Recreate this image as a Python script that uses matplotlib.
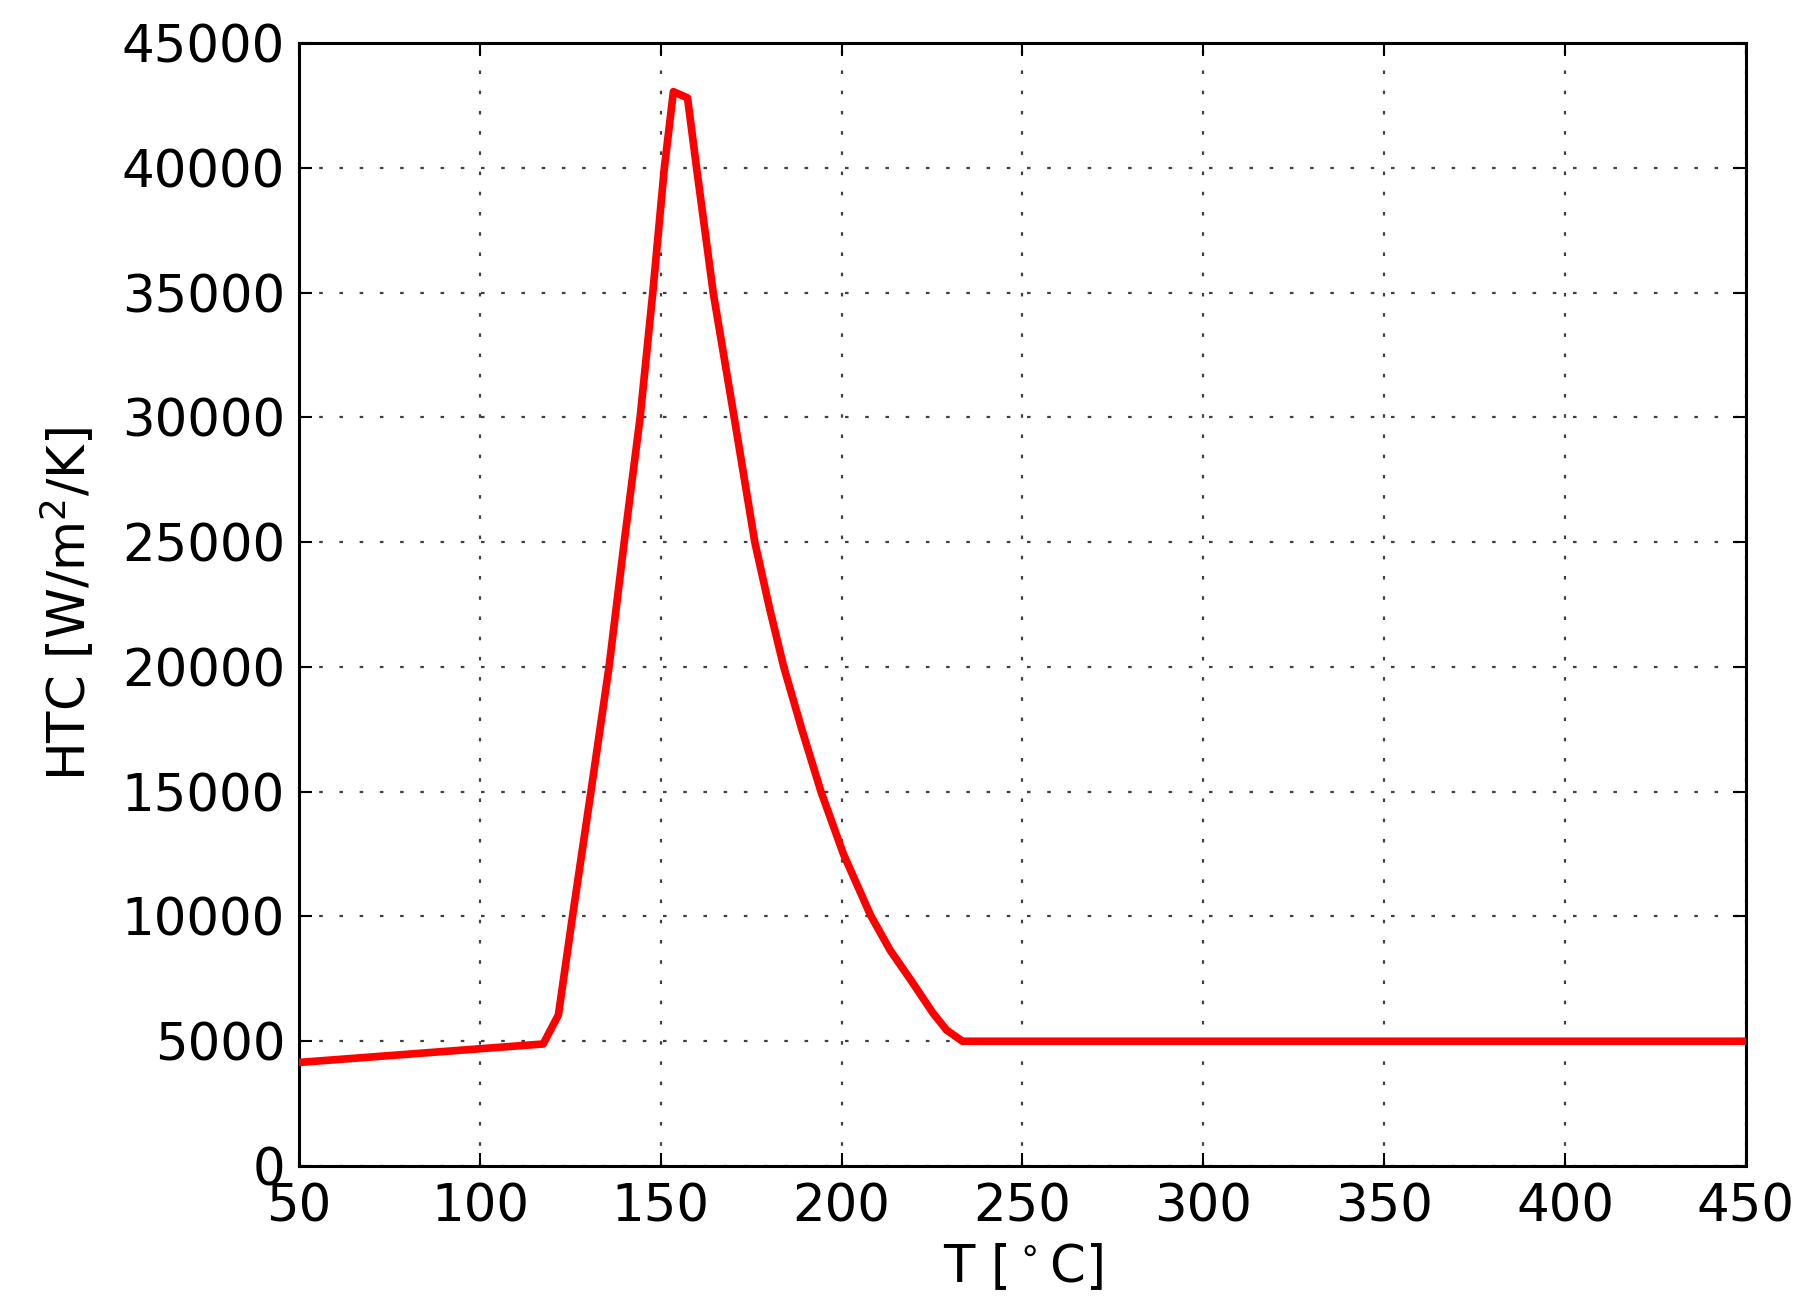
import matplotlib
matplotlib.use("Agg")
import matplotlib.pyplot as plt

# Data
temperature = [50, 117.5, 121.7, 125.6, 130.7, 135.7, 139.9, 144.3, 147.8, 151.0,
               153.5, 157.4, 159.9, 164.5, 170.3, 176.0, 180.0, 184.0, 189.0,
               194.3, 200.5, 208.0, 213.4, 218.9, 225.3, 229.0, 233.4, 450]
htc = [4150, 4890, 6050, 10000, 15000, 20000, 25000, 30000, 35000, 40000,
       43050, 42800, 40000, 35000, 30000, 25000, 22400, 20000, 17500,
       15000, 12500, 10050, 8650, 7500, 6120, 5450, 5000, 5000]

x_ticks = [50, 100, 150, 200, 250, 300, 350, 400, 450]
y_ticks = [0, 5000, 10000, 15000, 20000, 25000, 30000, 35000, 40000, 45000]

plt.rcParams['font.family'] = ['DejaVu Sans']
plt.rcParams['mathtext.fontset'] = 'dejavusans'

fig = plt.figure(figsize=(18.1, 13.15), dpi=100)
ax = fig.add_axes([0.1652, 0.1133, 0.7994, 0.854])

ax.plot(temperature, htc, color='red', lw=5.5, zorder=3, solid_joinstyle='round')

ax.set_xlim(50, 450)
ax.set_ylim(0, 45000)
ax.set_xticks(x_ticks)
ax.set_yticks(y_ticks)

ax.grid(True, color='black', linestyle=(0, (1.6, 7.5)), linewidth=1.6, alpha=0.75)

ax.tick_params(axis='both', which='major', direction='in', length=9.5, width=1.5,
               labelsize=37, top=True, right=True, pad=10)
ax.tick_params(axis='x', pad=12)
for s in ax.spines.values():
    s.set_linewidth(2.2)

ax.set_xlabel(r'T [$^\circ$C]', fontsize=37, labelpad=7)
ax.set_ylabel(r'HTC [W/m$^2$/K]', fontsize=37, labelpad=18)

fig.savefig('out.png', dpi=100, facecolor='white')
